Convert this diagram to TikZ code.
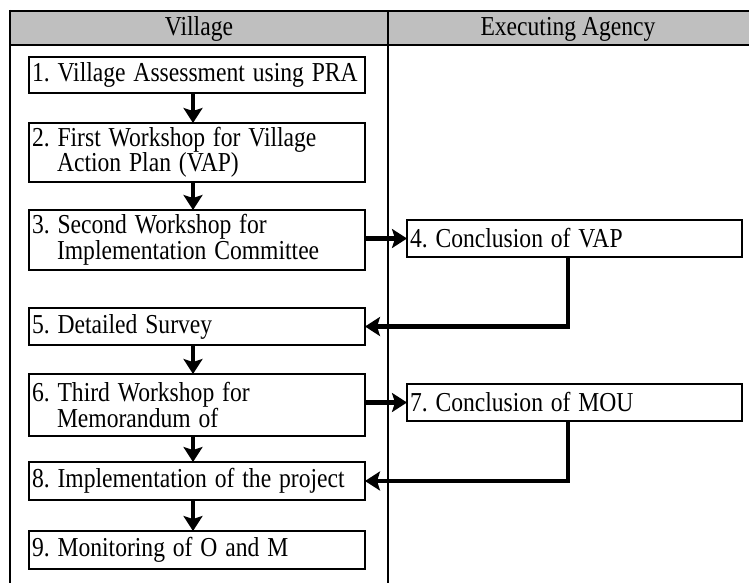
\documentclass[tikz,border=0pt]{standalone}
\usepackage{fontspec}
\setmainfont{Liberation Serif}
\usetikzlibrary{arrows.meta}
\frenchspacing
\newcommand\boxfont{\fontsize{23.6pt}{25.5pt}\selectfont}
% one line of text, set slightly taller than the font's natural shape
\newcommand\tline[1]{\scalebox{1}[1.16]{#1}}
\begin{document}
\begin{tikzpicture}[x=1pt,y=-1pt,
  rule/.style={line width=2pt},
  stepbox/.style={draw, line width=2pt, anchor=north west, outer sep=0pt,
    minimum width=336pt, text width=330pt, inner xsep=3pt, inner ysep=0pt,
    align=left, font=\boxfont},
  agencybox/.style={stepbox, minimum width=335pt, text width=329pt},
  head/.style={font=\boxfont},
  flow/.style={line width=4.5pt, -{Stealth[length=15pt,width=19pt,inset=3pt]}},
]
\useasboundingbox (0,0) rectangle (749,583);

% table frame and header row
\fill[gray!50] (10,11) rectangle (749,45);
\draw[rule] (10,11) -- (749,11);
\draw[rule] (10,45) -- (749,45);
\draw[rule] (10,10) -- (10,583);
\draw[rule] (388,11) -- (388,583);
\node[head] (hv) at (199,29) {\tline{Village}};
\node[head] (ha) at (568,29) {\tline{Executing Agency}};

% steps carried out in the village
\node[stepbox, minimum height=36pt] (b1) at (29,57) {\tline{1. Village Assessment using PRA}};
\node[stepbox, minimum height=59pt] (b2) at (29,123) {\tline{2. First Workshop for Village}\\\hspace*{25pt}\tline{Action Plan (VAP)}};
\node[stepbox, minimum height=60pt] (b3) at (29,210) {\tline{3. Second Workshop for}\\\hspace*{25pt}\tline{Implementation Committee}};
\node[stepbox, minimum height=37pt] (b5) at (29,308) {\tline{5. Detailed Survey}};
\node[stepbox, minimum height=62pt] (b6) at (29,374) {\tline{6. Third Workshop for}\\\hspace*{25pt}\tline{Memorandum of}};
\node[stepbox, minimum height=38pt] (b8) at (29,462) {\tline{8. Implementation of the project}};
\node[stepbox, minimum height=38pt] (b9) at (29,531) {\tline{9. Monitoring of O and M}};

% steps carried out by the executing agency
\node[agencybox, minimum height=37pt] (b4) at (407,220) {\tline{4. Conclusion of VAP}};
\node[agencybox, minimum height=37pt] (b7) at (407,384) {\tline{7. Conclusion of MOU}};

% connectors
\coordinate (xa) at (193,0);
\coordinate (xc) at (568,0);
\draw[flow] (b1.south -| xa) -- (b2.north -| xa);
\draw[flow] (b2.south -| xa) -- (b3.north -| xa);
\draw[flow] (b5.south -| xa) -- (b6.north -| xa);
\draw[flow] (b6.south -| xa) -- (b8.north -| xa);
\draw[flow] (b8.south -| xa) -- (b9.north -| xa);
\draw[flow] (b3.east |- b4.west) -- (b4.west);
\draw[flow] (b6.east |- b7.west) -- (b7.west);
\draw[flow] (b4.south -| xc) |- (b5.east);
\draw[flow] (b7.south -| xc) |- (b8.east);
\end{tikzpicture}
\end{document}
